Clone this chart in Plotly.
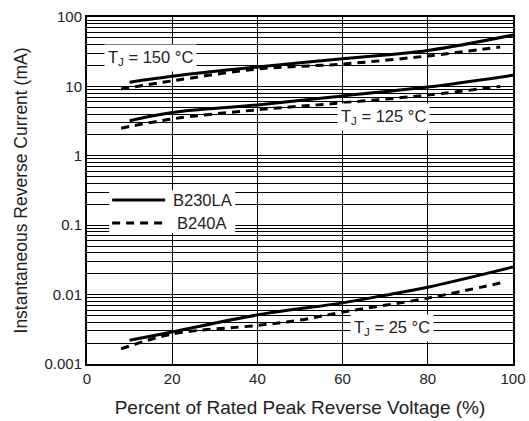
import math
import plotly.graph_objects as go

# data
x_b230_150 = [10, 20, 40, 60, 80, 100]
y_b230_150 = [11.5, 14, 19, 25, 33, 55]
x_b240_150 = [8, 20, 40, 60, 80, 97]
y_b240_150 = [9.2, 12, 17.8, 21, 27.5, 37]

x_b230_125 = [10, 20, 40, 60, 80, 100]
y_b230_125 = [3.2, 4.2, 5.4, 7.3, 9.8, 14.5]
x_b240_125 = [8, 20, 40, 60, 80, 97]
y_b240_125 = [2.5, 3.4, 4.6, 5.8, 7.5, 10]

x_b230_25 = [10, 20, 40, 60, 70, 80, 100]
y_b230_25 = [0.0022, 0.0029, 0.0051, 0.0076, 0.0098, 0.0128, 0.025]
x_b240_25 = [8, 20, 40, 50, 60, 80, 97]
y_b240_25 = [0.00165, 0.0027, 0.0036, 0.0043, 0.0056, 0.0089, 0.0147]

y_tickvals = [0.001, 0.01, 0.1, 1, 10, 100]
y_ticktext = ["0.001", "0.01", "0.1", "1", "10", "100"]
x_tickvals = [0, 20, 40, 60, 80, 100]

labels = ["T<sub>J</sub> = 150 °C", "T<sub>J</sub> = 125 °C", "T<sub>J</sub> = 25 °C"]
label_x = [14.8, 69.6, 71.7]
label_y = [26, 3.6, 0.0033]

series_names = ["B230LA", "B240A"]

solid = dict(color="black", width=3)
dashed = dict(color="black", width=3, dash="8px,6px")

fig = go.Figure()
fig.add_trace(go.Scatter(x=x_b230_150, y=y_b230_150, mode="lines", line=solid,
                         line_shape="spline", name=series_names[0], showlegend=False))
fig.add_trace(go.Scatter(x=x_b240_150, y=y_b240_150, mode="lines", line=dashed,
                         line_shape="spline", name=series_names[1], showlegend=False))
fig.add_trace(go.Scatter(x=x_b230_125, y=y_b230_125, mode="lines", line=solid,
                         line_shape="spline", name=series_names[0], showlegend=False))
fig.add_trace(go.Scatter(x=x_b240_125, y=y_b240_125, mode="lines", line=dashed,
                         line_shape="spline", name=series_names[1], showlegend=False))
fig.add_trace(go.Scatter(x=x_b230_25, y=y_b230_25, mode="lines", line=solid,
                         line_shape="spline", name=series_names[0], showlegend=False))
fig.add_trace(go.Scatter(x=x_b240_25, y=y_b240_25, mode="lines", line=dashed,
                         line_shape="spline", name=series_names[1], showlegend=False))

for t, lx, ly in zip(labels, label_x, label_y):
    fig.add_annotation(x=lx, y=math.log10(ly), yref="y", xref="x", text=t, showarrow=False,
                       bgcolor="white", font=dict(size=16.5, color="#222"),
                       borderpad=3)

# hand-drawn legend box (paper coordinates)
fig.add_shape(type="rect", xref="paper", yref="paper", x0=0.052, x1=0.348, y0=0.3775, y1=0.501,
              fillcolor="white", line=dict(width=0), layer="above")
fig.add_shape(type="line", xref="paper", yref="paper", x0=0.059, x1=0.1835, y0=0.4726, y1=0.4726,
              line=solid, layer="above")
fig.add_shape(type="line", xref="paper", yref="paper", x0=0.059, x1=0.1835, y0=0.4063, y1=0.4063,
              line=dict(color="black", width=3, dash="8px,6px"), layer="above")
fig.add_annotation(xref="paper", yref="paper", x=0.2706, y=0.4726, text=series_names[0],
                   showarrow=False, xanchor="center", font=dict(size=16.5, color="#222"))
fig.add_annotation(xref="paper", yref="paper", x=0.2706, y=0.4063, text=series_names[1],
                   showarrow=False, xanchor="center", font=dict(size=16.5, color="#222"))

fig.update_layout(
    width=529, height=421,
    margin=dict(l=87, r=16, t=17, b=57, autoexpand=False),
    paper_bgcolor="white", plot_bgcolor="white",
    font=dict(family="Liberation Sans, Arial, sans-serif", size=14, color="#222"),
    showlegend=False,
)
fig.update_xaxes(range=[0, 100], tickvals=x_tickvals, showgrid=True,
                 gridcolor="black", gridwidth=1, zeroline=False,
                 showline=True, linecolor="black", linewidth=2, mirror=True,
                 ticks="", tickfont=dict(size=15), automargin=False,
                 title=dict(text="Percent of Rated Peak Reverse Voltage (%)", font=dict(size=19), standoff=15))
fig.update_yaxes(type="log", range=[-3, 2], tickvals=y_tickvals, ticktext=y_ticktext,
                 showgrid=True, gridcolor="black", gridwidth=1,
                 minor=dict(showgrid=True, gridcolor="black", gridwidth=1, dtick="D1"),
                 showline=True, linecolor="black", linewidth=2, mirror=True,
                 ticks="", tickfont=dict(size=15), automargin=False,
                 title=dict(text="Instantaneous Reverse Current (mA)", font=dict(size=17.5), standoff=12))

fig.write_html("out.html", config={"displayModeBar": False})

with open("out.html", "r", encoding="utf-8") as f:
    html = f.read()
html = html.replace("<head>", "<head><style>html,body{margin:0;padding:0;overflow:hidden;}</style>", 1)
with open("out.html", "w", encoding="utf-8") as f:
    f.write(html)
